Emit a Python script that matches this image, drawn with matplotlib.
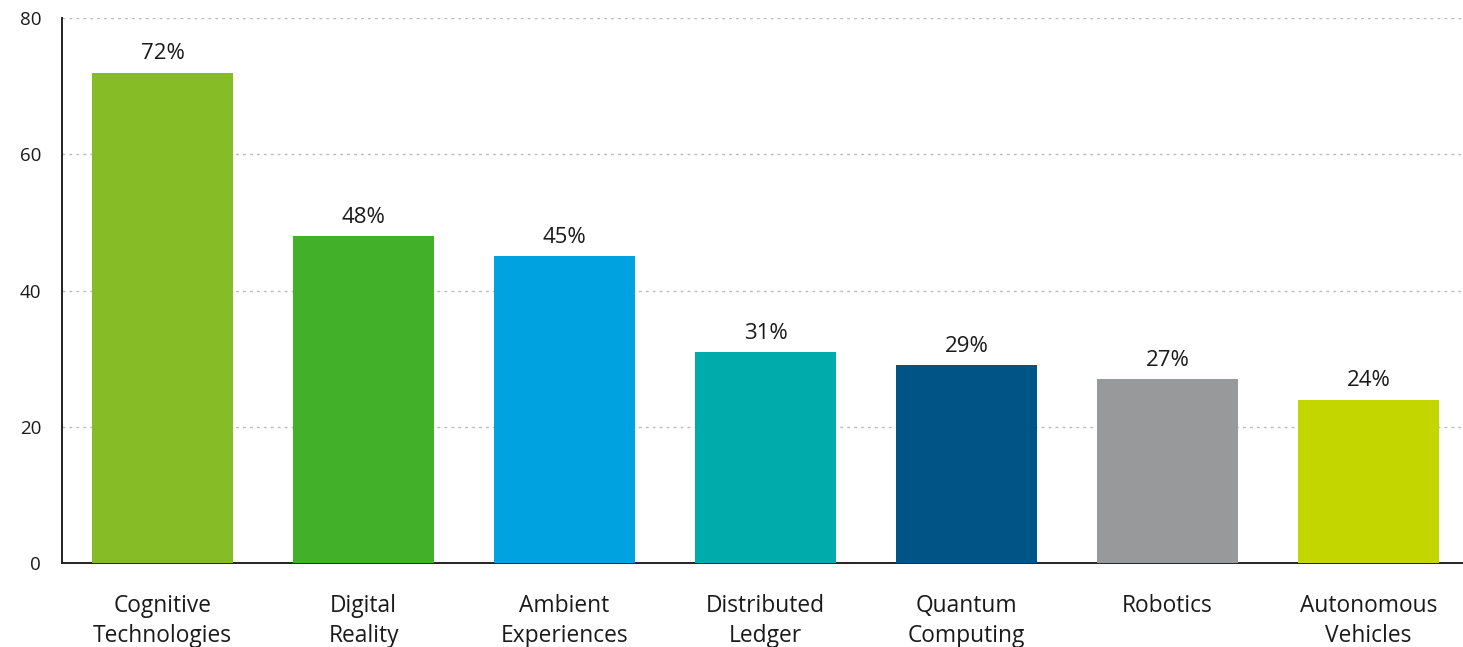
import matplotlib
matplotlib.use("Agg")
import matplotlib.pyplot as plt

categories = ["Cognitive\nTechnologies", "Digital\nReality", "Ambient\nExperiences",
              "Distributed\nLedger", "Quantum\nComputing", "Robotics", "Autonomous\nVehicles"]
values = [72, 48, 45, 31, 29, 27, 24]
colors = ["#86BC25", "#43B02A", "#00A3E0", "#00ABAB", "#005587", "#97999B", "#C4D600"]
yticks = [0, 20, 40, 60, 80]

plt.rcParams["font.family"] = ["Open Sans", "DejaVu Sans"]

fig = plt.figure(figsize=(14.63, 6.47), dpi=100)
ax = fig.add_axes([62 / 1463, (647 - 563) / 647, 1 - 62 / 1463, (563 - 18) / 647])

x = list(range(len(categories)))
bars = ax.bar(x, values, width=0.70, color=colors, zorder=3)
for xi, v in zip(x, values):
    ax.text(xi, v + 1.2, f"{v}%", ha="center", va="bottom", fontsize=16, color="#1a1a1a")

ax.set_xlim(-0.5, 6.47)
ax.set_ylim(0, 80)
ax.set_yticks(yticks)
ax.set_xticks(x)
ax.set_xticklabels(categories, fontsize=16.4, color="#1a1a1a", linespacing=1.3)
ax.tick_params(axis="y", length=0, pad=15, labelsize=13.5, labelcolor="#1a1a1a")
ax.tick_params(axis="x", length=0, pad=22.5)
ax.yaxis.grid(True, linestyle=(0, (2, 3)), color="#BBBBBB", linewidth=1, zorder=0)
ax.set_axisbelow(True)
for s in ["top", "right"]:
    ax.spines[s].set_visible(False)
for s in ["left", "bottom"]:
    ax.spines[s].set_color("#222222")
    ax.spines[s].set_linewidth(1.4)

fig.savefig("out.png", dpi=100)
